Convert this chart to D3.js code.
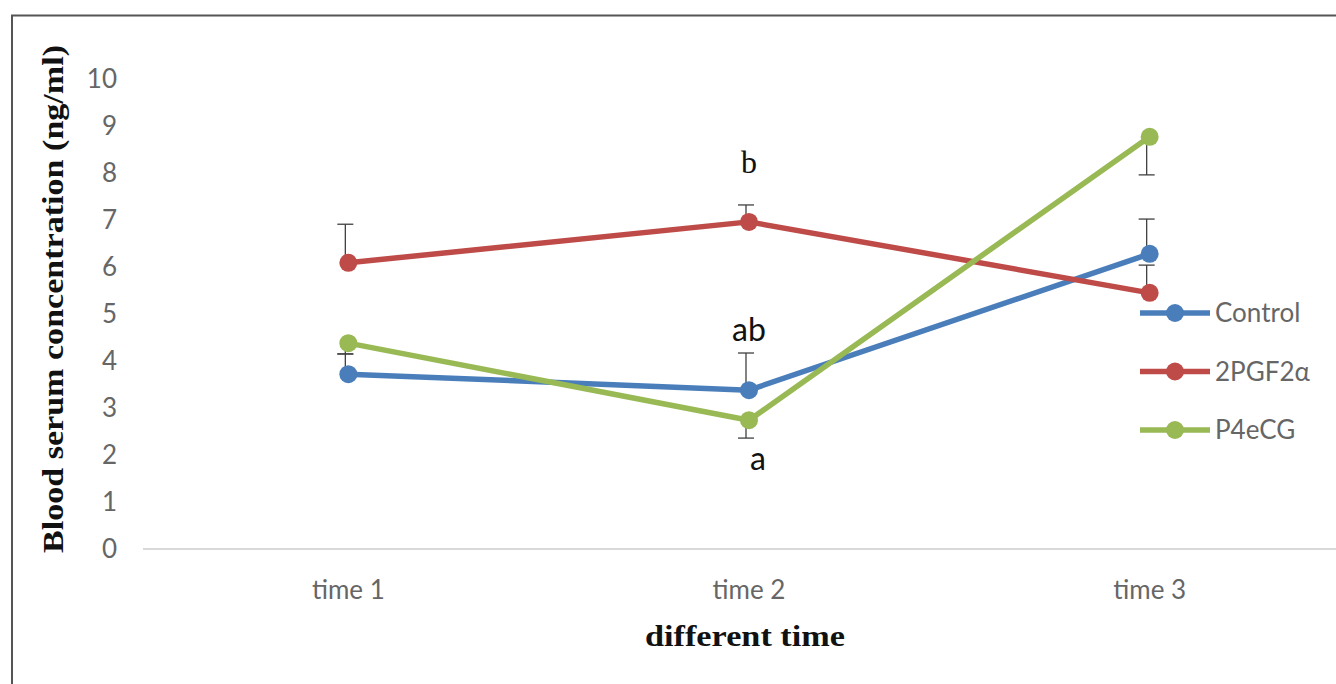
<!DOCTYPE html>
<html>
<head>
<meta charset="utf-8">
<script src="https://cdn.jsdelivr.net/npm/d3@7"></script>
<style>
  body { margin: 0; background: #fff; }
  svg { display: block; }
</style>
</head>
<body>
<div id="chart"></div>
<script>
const categories = ['time 1', 'time 2', 'time 3'];
const seriesNames = ['Control', '2PGF2α', 'P4eCG'];
const controlValues = [3.72, 3.38, 6.28];
const pgfValues = [6.09, 6.96, 5.45];
const p4ecgValues = [4.38, 2.74, 8.77];
// error bar ends (Excel-style, one direction only)
const controlErrEnds = [4.15, 4.17, 7.02];
const pgfErrEnds = [6.91, 7.32, 6.04];
const p4ecgErrEnds = [4.15, 2.36, 7.96];
const yTicks = [0, 1, 2, 3, 4, 5, 6, 7, 8, 9, 10];
const letters = [
  { label: 'b', cat: 'time 2', value: 8.0, serif: true },
  { label: 'ab', cat: 'time 2', value: 4.43, serif: false },
  { label: 'a', cat: 'time 2', value: 1.68, serif: false, dx: 9 }
];

const COLORS = ['#4a7ebb', '#be4b48', '#98b954'];

const W = 1336, H = 684;
const plot = { left: 148, right: 1350, top: 79, bottom: 549 };
const LABEL_FONT = 'Lato, "Open Sans", sans-serif';
const SERIF_FONT = '"Liberation Serif", "DejaVu Serif", serif';

const series = seriesNames.map((name, i) => ({
  name: name,
  color: COLORS[i],
  values: [controlValues, pgfValues, p4ecgValues][i],
  errs: [controlErrEnds, pgfErrEnds, p4ecgErrEnds][i]
}));

const x = d3.scaleBand()
  .domain(categories)
  .range([plot.left, plot.right]);
const y = d3.scaleLinear()
  .domain([0, 10])
  .range([plot.bottom, plot.top]);
const cx = c => x(c) + x.bandwidth() / 2;

const svg = d3.select('#chart').append('svg')
  .attr('width', W)
  .attr('height', H);

// Outer frame
svg.append('rect')
  .attr('x', 12)
  .attr('y', 15.5)
  .attr('width', W + 20)
  .attr('height', H + 20)
  .attr('fill', 'none')
  .attr('stroke', '#555')
  .attr('stroke-width', 2);

// Y axis labels
const yAxis = svg.append('g')
  .attr('transform', `translate(${plot.left - 31},0)`)
  .call(d3.axisLeft(y).tickValues(yTicks).tickSize(0).tickPadding(0));
yAxis.select('.domain').remove();
yAxis.selectAll('text')
  .attr('font-family', LABEL_FONT)
  .attr('font-size', 26)
  .attr('fill', '#666');

// X axis
const xAxis = svg.append('g')
  .attr('transform', `translate(0,${plot.bottom})`)
  .call(d3.axisBottom(x).tickSize(0).tickPadding(32));
xAxis.select('.domain')
  .attr('stroke', '#d9d9d9')
  .attr('stroke-width', 2)
  .attr('d', `M${plot.left - 5},0H${W}`);
xAxis.selectAll('text')
  .attr('font-family', LABEL_FONT)
  .attr('font-size', 26)
  .attr('fill', '#666');

// Axis titles
svg.append('text')
  .text('Blood serum concentration (ng/ml)')
  .attr('transform', `translate(63,${(45 + 553) / 2}) rotate(-90)`)
  .attr('text-anchor', 'middle')
  .style('font-family', SERIF_FONT)
  .attr('font-weight', 'bold')
  .attr('font-size', 29)
  .attr('textLength', 508)
  .attr('lengthAdjust', 'spacingAndGlyphs')
  .attr('fill', '#111');

svg.append('text')
  .text('different time')
  .attr('x', 745)
  .attr('y', 646)
  .attr('text-anchor', 'middle')
  .style('font-family', SERIF_FONT)
  .attr('font-weight', 'bold')
  .attr('font-size', 29)
  .attr('textLength', 200)
  .attr('lengthAdjust', 'spacingAndGlyphs')
  .attr('fill', '#111');

// Error bars
const errG = svg.append('g');
series.forEach(s => {
  categories.forEach((c, i) => {
    const x0 = cx(c) - 3;
    errG.append('line')
      .attr('x1', x0).attr('x2', x0)
      .attr('y1', y(s.values[i])).attr('y2', y(s.errs[i]))
      .attr('stroke', '#404040').attr('stroke-width', 1.3);
    errG.append('line')
      .attr('x1', x0 - 8).attr('x2', x0 + 8)
      .attr('y1', y(s.errs[i])).attr('y2', y(s.errs[i]))
      .attr('stroke', '#404040').attr('stroke-width', 1.3);
  });
});

// Lines and markers
const line = d3.line()
  .x((d, i) => cx(categories[i]))
  .y(d => y(d));

const sg = svg.selectAll('.series')
  .data(series)
  .enter().append('g')
  .attr('class', 'series');

sg.append('path')
  .attr('d', d => line(d.values))
  .attr('fill', 'none')
  .attr('stroke', d => d.color)
  .attr('stroke-width', 5.5)
  .attr('stroke-linejoin', 'round');

sg.selectAll('circle')
  .data(d => d.values.map(v => ({ v: v, color: d.color })))
  .enter().append('circle')
  .attr('cx', (d, i) => cx(categories[i]))
  .attr('cy', d => y(d.v))
  .attr('r', 9)
  .attr('fill', d => d.color);

// Significance letters
svg.selectAll('.letter')
  .data(letters)
  .enter().append('text')
  .attr('class', 'letter')
  .text(d => d.label)
  .attr('x', d => cx(d.cat) + (d.dx || 0))
  .attr('y', d => y(d.value))
  .attr('text-anchor', 'middle')
  .style('font-family', d => d.serif ? SERIF_FONT : LABEL_FONT)
  .attr('font-size', d => d.serif ? 32 : 32)
  .attr('fill', '#111');

// Legend
const legend = svg.append('g')
  .attr('transform', 'translate(1140,313)');
const li = legend.selectAll('g')
  .data(series)
  .enter().append('g')
  .attr('transform', (d, i) => `translate(0,${i * 58.5})`);
li.append('line')
  .attr('x1', 0).attr('x2', 70)
  .attr('stroke', d => d.color)
  .attr('stroke-width', 5.5);
li.append('circle')
  .attr('cx', 35)
  .attr('r', 9)
  .attr('fill', d => d.color);
li.append('text')
  .text(d => d.name)
  .attr('x', 75)
  .attr('dy', '0.35em')
  .attr('font-family', LABEL_FONT)
  .attr('font-size', 26)
  .attr('fill', '#666');
</script>
</body>
</html>
